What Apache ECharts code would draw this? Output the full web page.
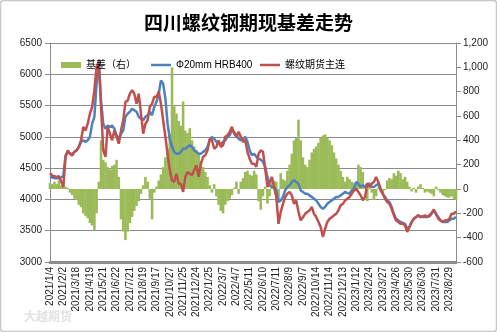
<!DOCTYPE html>
<html>
<head>
<meta charset="utf-8">
<script src="https://cdn.jsdelivr.net/npm/echarts@6/dist/echarts.min.js"></script>
<style>html,body{margin:0;padding:0;background:#fff}#c{width:497px;height:332px}</style>
</head>
<body>
<div id="c"></div>
<script>
// Tick labels on the category axis (one every 6 points)
const labelDates = ['2021/1/4','2021/2/2','2021/3/18','2021/4/19','2021/5/21','2021/6/22','2021/7/21','2021/8/19','2021/9/17','2021/10/27','2021/11/25','2021/12/24','2022/1/25','2022/3/7','2022/4/7','2022/5/11','2022/6/10','2022/7/11','2022/8/9','2022/9/7','2022/10/14','2022/11/14','2022/12/13','2023/1/12','2023/2/24','2023/3/27','2023/4/26','2023/5/30','2023/6/30','2023/7/31','2023/8/29'];
const pointsPerLabel = 6;

// 螺纹期货主连 (left axis)
const futures = [4420,4380,4370,4360,4370,4290,4200,4680,4785,4730,4700,4760,4785,4840,4945,5160,5100,5210,5370,5480,5745,6120,6200,5480,4790,4680,5160,5050,4945,5100,5000,4890,5100,5265,5560,5580,5690,5745,5690,5530,5690,5370,5050,5210,5265,5480,5530,5640,5640,5720,5530,5265,5000,4730,4465,4305,4280,4410,4250,4250,4120,4360,4440,4410,4385,4465,4545,4360,4570,4680,4705,4785,4970,4945,4810,4840,4945,4840,4865,5000,5025,5080,5160,5050,5000,5080,5000,4920,4945,4760,4650,4570,4570,4520,4730,4785,4760,4490,4200,4280,4360,4200,4040,3610,3800,3930,4040,4090,4120,4065,3930,3985,3800,3665,3715,3770,3800,3825,3880,3770,3720,3640,3560,3400,3530,3640,3690,3715,3745,3770,3825,3905,3930,3985,4010,4040,4090,4145,4170,4120,4065,3985,4040,4250,4200,4250,4280,4360,4280,4170,4090,4010,3960,3930,3850,3745,3665,3640,3610,3610,3585,3480,3560,3640,3690,3720,3745,3720,3730,3745,3720,3745,3785,3840,3770,3690,3665,3640,3665,3665,3690,3770,3770,3810];

// Φ20mm HRB400 spot (left axis)
const spot = [4360,4350,4340,4340,4340,4350,4380,4700,4760,4730,4730,4760,4785,4840,4920,4945,4920,4945,5000,5210,5320,5850,6220,5580,5210,5130,5180,5160,5180,5130,5025,4970,5050,5100,5320,5370,5400,5450,5425,5400,5320,5290,5265,5320,5345,5400,5345,5480,5560,5690,5900,5850,5610,5210,4970,4840,4760,4730,4730,4760,4810,4810,4840,4865,4840,4785,4760,4730,4730,4760,4785,4840,4945,5000,4970,4920,4890,4890,4920,4945,5000,5025,5105,5080,5025,4970,4945,4970,5000,4920,4785,4705,4730,4680,4650,4635,4600,4520,4360,4225,4200,4200,4145,3960,3985,4040,4145,4200,4225,4280,4305,4280,4250,4145,4120,4090,4090,4065,4040,4010,3985,3930,3880,3850,3880,3930,3960,3985,4010,4040,4040,4065,4090,4120,4100,4090,4145,4170,4280,4250,4200,4225,4200,4250,4250,4200,4200,4225,4250,4145,4090,4040,3985,3960,3880,3770,3690,3665,3640,3625,3610,3535,3560,3640,3690,3720,3745,3720,3720,3720,3720,3730,3770,3825,3760,3720,3665,3640,3640,3640,3665,3690,3690,3720];

// 基差 (right axis)
const basis = [50,40,60,40,70,30,50,20,10,-30,-50,-80,-90,-130,-150,-200,-220,-240,-280,-300,-340,-200,60,400,240,220,180,160,190,200,240,100,-250,-350,-420,-350,-280,-230,-180,-140,-100,-40,30,100,60,-80,-250,-30,20,70,120,180,260,330,450,1000,680,620,560,520,720,480,460,500,400,350,320,280,230,180,140,100,30,-30,40,-60,-130,-180,-200,-130,-100,-80,-50,10,60,-40,60,90,140,150,120,110,150,120,-100,-170,-60,20,-120,-60,100,70,60,-90,130,80,70,150,200,290,400,420,570,400,260,200,180,240,300,330,350,380,420,440,450,420,400,360,300,250,200,150,100,60,100,80,60,50,40,200,180,140,20,-100,10,-30,-90,-60,10,-20,-40,-10,70,90,80,130,110,150,130,80,100,60,20,-20,10,-30,20,40,10,-30,-20,-30,-40,-60,20,-10,-30,-50,-60,-70,-70,-60,-80,-90];

const categories = futures.map((_, i) => {
  const seg = Math.floor(i / pointsPerLabel), k = i % pointsPerLabel;
  const base = labelDates[Math.min(seg, labelDates.length - 1)];
  return k === 0 && seg < labelDates.length ? base : base + '#' + k;
});

const FONT = 'Liberation Sans, Noto Sans CJK SC, sans-serif';
const LINE_ICON = 'path://M0,0H20V2.5H0Z';
const chart = echarts.init(document.getElementById('c'), null, {renderer: 'canvas'});
chart.setOption({
  animation: false,
  backgroundColor: '#fff',
  title: {
    text: '四川螺纹钢期现基差走势', left: 'center', top: 8,
    textStyle: {fontFamily: 'Noto Sans CJK SC', fontSize: 19, fontWeight: 'bold', color: '#000'}
  },
  graphic: [
    {type: 'rect', shape: {x: 0.5, y: 0.5, width: 496, height: 331, r: 3}, style: {fill: 'none', stroke: '#c8c8c8', lineWidth: 1.5}, silent: true},
    {type: 'text', left: 24, top: 310, style: {text: '大越期货', fill: '#e2e2e2', font: 'bold 12px Noto Sans CJK SC'}, silent: true}
  ],
  legend: [
    {data: [{name: '基差（右）', icon: 'rect'}], left: 56, top: 55, itemWidth: 20, itemHeight: 6, textStyle: {fontSize: 10, fontFamily: FONT, color: '#000'}},
    {data: [{name: 'Φ20mm HRB400', icon: LINE_ICON}], left: 146, top: 55, itemWidth: 20, itemHeight: 12, textStyle: {fontSize: 10, fontFamily: FONT, color: '#000'}},
    {data: [{name: '螺纹期货主连', icon: LINE_ICON}], left: 255, top: 55, itemWidth: 20, itemHeight: 12, textStyle: {fontSize: 10, fontFamily: FONT, color: '#000'}}
  ],
  grid: {left: 50, right: 41, top: 43, bottom: 70, containLabel: false},
  xAxis: {
    type: 'category', data: categories, boundaryGap: false,
    axisLine: {onZero: false, lineStyle: {color: '#8c8c8c', width: 3}},
    axisTick: {show: false},
    axisLabel: {interval: pointsPerLabel - 1, rotate: 90, fontSize: 10, fontFamily: FONT, color: '#222', margin: 5},
    splitLine: {show: false}
  },
  yAxis: [
    {
      type: 'value', min: 3000, max: 6500, interval: 500, position: 'left',
      axisLine: {show: true, lineStyle: {color: '#8c8c8c'}},
      axisTick: {show: true, length: 5, lineStyle: {color: '#8c8c8c'}},
      axisLabel: {fontSize: 10, fontFamily: FONT, color: '#222', margin: 8, formatter: v => String(v)},
      splitLine: {show: true, lineStyle: {color: '#8c8c8c', width: 1}}
    },
    {
      type: 'value', min: -600, max: 1200, interval: 200, position: 'right',
      axisLine: {show: true, lineStyle: {color: '#8c8c8c'}},
      axisTick: {show: true, length: 5, lineStyle: {color: '#8c8c8c'}},
      axisLabel: {fontSize: 10, fontFamily: FONT, color: '#222', margin: 7,
        formatter: v => v.toLocaleString('en-US')},
      splitLine: {show: false}
    }
  ],
  series: [
    {name: '基差（右）', type: 'bar', yAxisIndex: 1, data: basis, barWidth: 2.6,
     itemStyle: {color: '#9BBB59'}},
    {name: 'Φ20mm HRB400', type: 'line', yAxisIndex: 0, data: spot, symbol: 'none',
     lineStyle: {color: '#4F81BD', width: 2.5}, itemStyle: {color: '#4F81BD'}},
    {name: '螺纹期货主连', type: 'line', yAxisIndex: 0, data: futures, symbol: 'none',
     lineStyle: {color: '#C0504D', width: 2.5}, itemStyle: {color: '#C0504D'}}
  ]
});
</script>
</body>
</html>
